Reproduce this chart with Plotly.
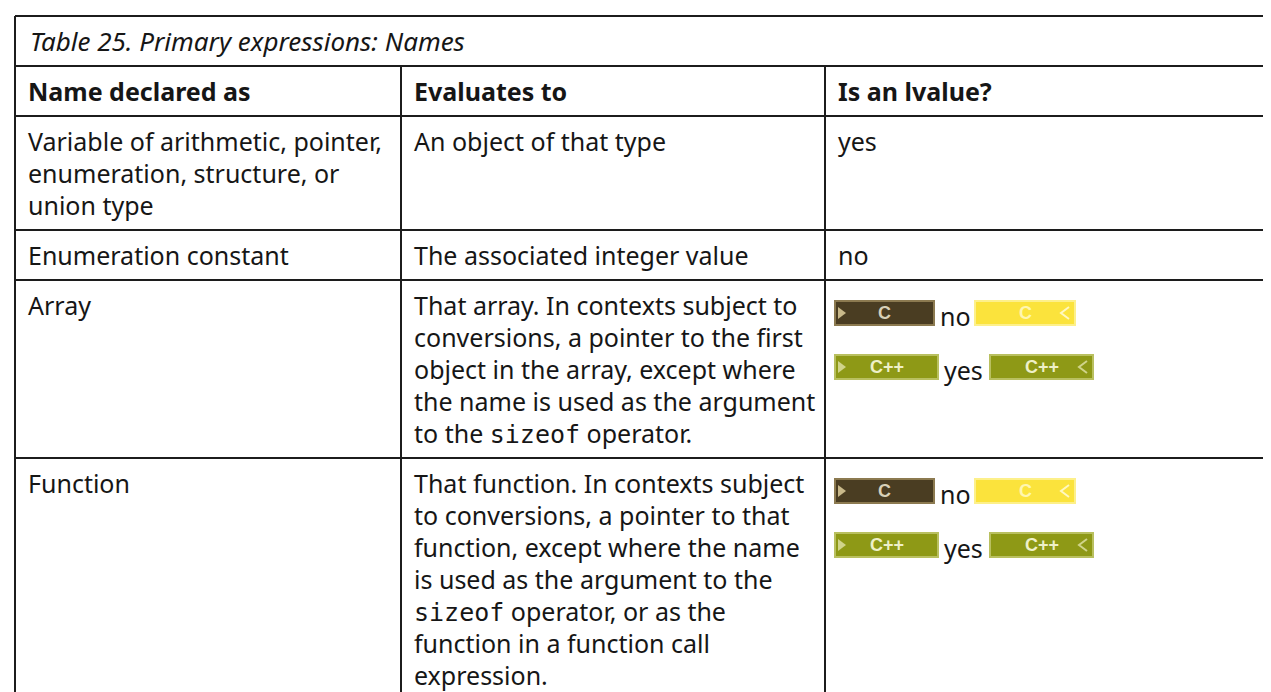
import plotly.graph_objects as go

# ---------------- data ----------------
title_text = "Table 25. Primary expressions: Names"
headers = ["Name declared as", "Evaluates to", "Is an lvalue?"]
names = [
    ["Variable of arithmetic, pointer,", "enumeration, structure, or", "union type"],
    ["Enumeration constant"],
    ["Array"],
    ["Function"],
]
evaluates = [
    ["An object of that type"],
    ["The associated integer value"],
    ["That array. In contexts subject to", "conversions, a pointer to the first",
     "object in the array, except where", "the name is used as the argument",
     "to the {sizeof} operator."],
    ["That function. In contexts subject", "to conversions, a pointer to that",
     "function, except where the name", "is used as the argument to the",
     "{sizeof} operator, or as the", "function in a function call", "expression."],
]
lvalue_plain = ["yes", "no", None, None]
c_lvalue = [None, None, "no", "no"]
cpp_lvalue = [None, None, "yes", "yes"]
badge_labels = ["C", "C++"]

# ---------------- style / geometry ----------------
W, H = 1271, 692
FONT = "Noto Sans"
MONO = "DejaVu Sans Mono"
FS = 25
TXT = "#161616"
LINE = "#1c1c1c"
col_x = [7, 393, 817, 1269]
y_top = 8
PAD = 9
LH = 32
TX = 11  # text left inset

C_START = dict(fill="#4a3d22", edge="#8c7a50", text="#d8d0b8", arrow="#c9b98a")
C_END = dict(fill="#fbe33c", edge="#fdf08a", text="#fff6b0", arrow="#fff8c0")
P_START = dict(fill="#8e9916", edge="#b9c060", text="#eef0c8", arrow="#d0d48a")
P_END = dict(fill="#8e9916", edge="#b9c060", text="#eef0c8", arrow="#d0d48a")

shapes = []
annotations = []


def fmt(s):
    return s.replace("{", '<span style="font-family:%s">' % MONO).replace("}", "</span>")


def add_text(x, y, s, size=FS, color=TXT):
    annotations.append(dict(x=x, y=y, xref="x", yref="y", text=s, showarrow=False,
                            xanchor="left", yanchor="middle",
                            font=dict(family=FONT, size=size, color=color)))


def hline(y, x0=col_x[0], x1=col_x[-1], w=2, c=LINE):
    shapes.append(dict(type="line", x0=x0, x1=x1, y0=y, y1=y, xref="x", yref="y",
                       line=dict(color=c, width=w)))


def vline(x, y0, y1, w=2, c=LINE):
    shapes.append(dict(type="line", x0=x, x1=x, y0=y0, y1=y1, xref="x", yref="y",
                       line=dict(color=c, width=w)))


def badge(x0, yc, w, label, sty, end=False):
    h = 24
    shapes.append(dict(type="rect", x0=x0, x1=x0 + w, y0=yc - h / 2, y1=yc + h / 2,
                       xref="x", yref="y", fillcolor=sty["fill"],
                       line=dict(color=sty["edge"], width=2), layer="above"))
    if not end:
        ax = x0 + 3
        shapes.append(dict(type="path", xref="x", yref="y",
                           path=f"M{ax},{yc-6} L{ax+8},{yc} L{ax},{yc+6} Z",
                           fillcolor=sty["arrow"], line=dict(width=0), layer="above"))
    else:
        ax = x0 + w - 6
        shapes.append(dict(type="path", xref="x", yref="y",
                           path=f"M{ax},{yc-6} L{ax-8},{yc} L{ax},{yc+6}",
                           line=dict(color=sty["arrow"], width=2), layer="above"))
    annotations.append(dict(x=x0 + w / 2, y=yc, xref="x", yref="y", text="<b>%s</b>" % label,
                            showarrow=False, xanchor="center", yanchor="middle",
                            font=dict(family="Liberation Sans", size=18, color=sty["text"])))


# ---------------- build ----------------
y = y_top
hline(y, w=2)
# title row
add_text(col_x[0] + 13, y + PAD + LH / 2, "<i>%s</i>" % title_text, size=26)
y += 2 * PAD + LH
hline(y)
# header row
for i, hd in enumerate(headers):
    add_text(col_x[i] + TX, y + PAD + LH / 2, "<b>%s</b>" % hd)
header_top = y
y += 2 * PAD + LH
hline(y)

for r in range(len(names)):
    n_lines = max(len(names[r]), len(evaluates[r]))
    top = y
    for j, s in enumerate(names[r]):
        add_text(col_x[0] + TX, top + PAD + LH * (j + 0.5), fmt(s))
    for j, s in enumerate(evaluates[r]):
        add_text(col_x[1] + TX, top + PAD + LH * (j + 0.5), fmt(s))
    if lvalue_plain[r] is not None:
        add_text(col_x[2] + TX, top + PAD + LH * 0.5, lvalue_plain[r])
    if c_lvalue[r] is not None:
        yc = top + 33
        badge(827, yc, 99, badge_labels[0], C_START)
        add_text(930, yc + 3, c_lvalue[r])
        badge(967, yc, 100, badge_labels[0], C_END, end=True)
    if cpp_lvalue[r] is not None:
        yc = top + 87
        badge(827, yc, 103, badge_labels[1], P_START)
        add_text(934, yc + 3, cpp_lvalue[r])
        badge(982, yc, 103, badge_labels[1], P_END, end=True)
    y = top + 2 * PAD + LH * n_lines
    if r < len(names) - 1:
        hline(y)

# vertical borders
vline(col_x[0], y_top, H + 20)
vline(col_x[-1], y_top, H + 20, w=1.5, c="#666666")
vline(col_x[1], header_top, H + 20)
vline(col_x[2], header_top, H + 20)

fig = go.Figure()
fig.add_trace(go.Scatter(x=[0, W], y=[0, H], mode="markers", marker=dict(opacity=0),
                         hoverinfo="skip", showlegend=False))
fig.update_layout(
    width=W, height=H, margin=dict(l=0, r=0, t=0, b=0),
    paper_bgcolor="white", plot_bgcolor="white",
    xaxis=dict(range=[0, W], visible=False, fixedrange=True),
    yaxis=dict(range=[H, 0], visible=False, fixedrange=True),
    shapes=shapes, annotations=annotations, showlegend=False,
)
fig.write_html("out.html")
